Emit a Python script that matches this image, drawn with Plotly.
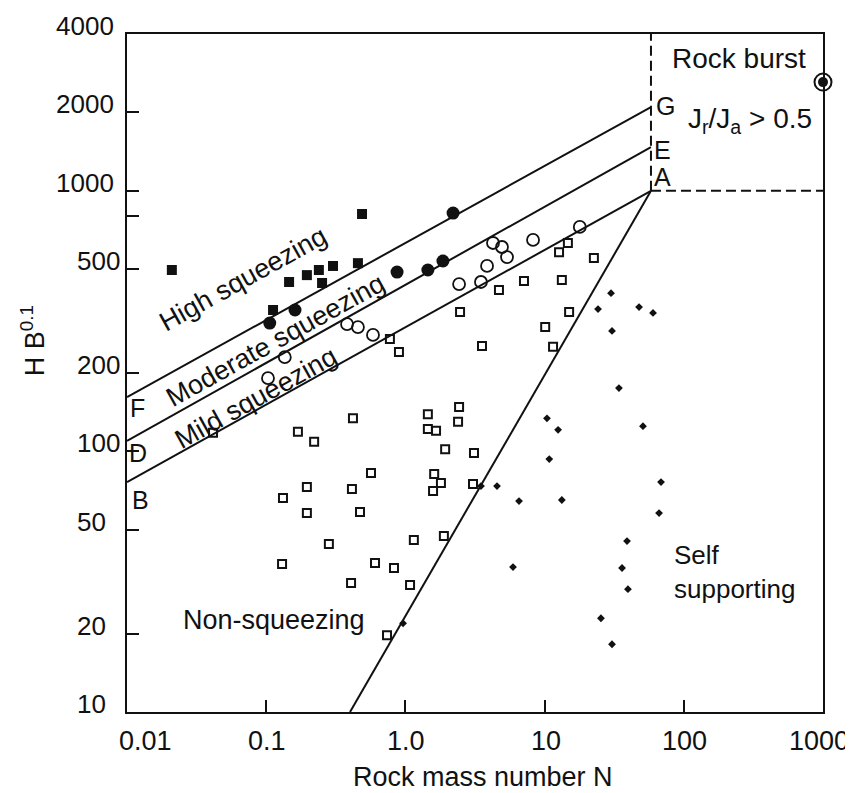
import math
import plotly.graph_objects as go

# ---------------- data ----------------
high_N = [0.021, 0.112, 0.146, 0.196, 0.239, 0.252, 0.302, 0.456, 0.488]
high_H = [497, 349, 447, 475, 497, 443, 515, 528, 815]

mod_N = [0.106, 0.161, 0.871, 1.45, 1.86, 2.20]
mod_H = [311, 349, 488, 497, 538, 822]

mild_N = [0.103, 0.136, 0.381, 0.456, 0.585, 2.43, 3.49, 3.86, 4.26, 4.94, 5.37, 8.26, 17.9]
mild_H = [191, 230, 308, 300, 280, 439, 447, 515, 631, 609, 557, 648, 727]

non_N = [0.774, 0.899, 14.7, 12.7, 22.6, 7.11, 13.3, 4.70, 2.47, 15.0, 10.1, 3.55, 11.5,
         0.420, 0.169, 0.221, 0.0415, 1.45, 2.43, 1.45, 1.66, 2.39, 1.93, 3.11, 0.566,
         1.61, 1.80, 1.58, 3.06, 0.196, 0.413, 0.132, 0.196, 0.472, 1.89, 1.15, 0.282,
         0.130, 0.605, 0.828, 0.407, 1.08, 0.738]
non_H = [270, 241, 631, 582, 552, 451, 455, 416, 343, 343, 300, 254, 252,
         134, 119, 109, 118, 139, 148, 122, 120, 130, 102, 98.6, 82.6,
         81.9, 75.6, 70.5, 75.0, 73.0, 71.7, 66.3, 58.0, 58.5, 47.4, 45.7, 44.1,
         37.0, 37.3, 35.7, 31.3, 30.7, 19.7]

self_N = [30.0, 24.2, 47.7, 60.1, 30.5, 34.2, 10.4, 12.5, 50.9, 10.8, 68.6, 3.49,
          4.55, 6.55, 13.3, 66.4, 39.1, 5.93, 36.0, 39.7, 25.4, 30.5, 0.962]
self_H = [405, 352, 358, 340, 290, 175, 134, 121, 125, 93.5, 76.3, 73.6,
          73.6, 64.5, 65.1, 58.0, 45.3, 36.0, 35.7, 29.6, 22.9, 18.2, 21.9]

burst_N = [1000]
burst_H = [2615]

# boundary lines (end points)
bound_N = [0.01, 58.1]
AB_H = [76.3, 1000]
DE_H = [109.7, 1472]
FG_H = [161.7, 2097]
nonsq_N = [0.40, 58.1]
nonsq_H = [10, 1000]
vdash_N = [58.1, 58.1]
vdash_H = [1000, 4000]
hdash_N = [58.1, 1000]
hdash_H = [1000, 1000]

# ticks
x_tick_vals = [0.01, 0.1, 1, 10, 100, 1000]
x_tick_text = ["0.01", "0.1", "1.0", "10", "100", "1000"]
y_tick_vals = [10, 20, 50, 100, 200, 500, 1000, 2000, 4000]
y_tick_text = ["10", "20", "50", "100", "200", "500", "1000", "2000", "4000"]
y_minor_tick = [800]

FONT = "Liberation Sans, Arial, sans-serif"
BLACK = "#111111"

fig = go.Figure()

def line(xs, ys, dash="solid", width=2):
    fig.add_trace(go.Scatter(x=xs, y=ys, mode="lines",
                             line=dict(color=BLACK, width=width, dash=dash),
                             hoverinfo="skip", showlegend=False, cliponaxis=False))

line(bound_N, AB_H)
line(bound_N, DE_H)
line(bound_N, FG_H)
line(nonsq_N, nonsq_H)
line(vdash_N, vdash_H, dash="10px,5px")
line(hdash_N, hdash_H, dash="10px,5px")

def pts(xs, ys, symbol, size, lw=0):
    fig.add_trace(go.Scatter(x=xs, y=ys, mode="markers",
                             marker=dict(symbol=symbol, size=size, color=BLACK,
                                         line=dict(color=BLACK, width=lw)),
                             showlegend=False, cliponaxis=False))

pts(non_N, non_H, "square-open", 8, 2)
pts(self_N, self_H, "diamond", 6, 0)
pts(mild_N, mild_H, "circle-open", 12, 1.8)
pts(high_N, high_H, "square", 10, 0)
pts(mod_N, mod_H, "circle", 13, 0)
pts(burst_N, burst_H, "circle-open", 17, 2)
pts(burst_N, burst_H, "circle", 10, 0)

ann = []
# y tick labels
for v, t in zip(y_tick_vals, y_tick_text):
    ann.append(dict(x=0, xref="paper", y=math.log10(v), yref="y", text=t,
                    showarrow=False, xanchor="left", yanchor="middle",
                    xshift=(-73 if len(t) == 4 else -52), yshift=8,
                    font=dict(family=FONT, size=26, color=BLACK)))
# x tick labels
for v, t in zip(x_tick_vals, x_tick_text):
    shift = 1
    if v == 0.01:
        shift = 18
    elif v == 1000:
        shift = -4
    ann.append(dict(x=math.log10(v), xref="x", y=0, yref="paper", text=t,
                    showarrow=False, xanchor="center", yanchor="top",
                    xshift=shift, yshift=-12,
                    font=dict(family=FONT, size=27, color=BLACK)))

def txt(x, y, t, size=27, angle=0, xanchor="center", align="center"):
    ann.append(dict(x=x, y=y, xref="paper", yref="paper", text=t, showarrow=False,
                    textangle=angle, xanchor=xanchor, yanchor="middle", align=align,
                    font=dict(family=FONT, size=size, color=BLACK)))

txt(0.1667, 0.6386, "High squeezing", angle=-29)
txt(0.214, 0.5487, "Moderate squeezing", angle=-29)
txt(0.185, 0.463, "Mild squeezing", angle=-29)
txt(0.211, 0.1357, "Non-squeezing")
txt(0.783, 0.2065, "Self<br>supporting", size=26, xanchor="left", align="left")
txt(0.879, 0.9646, "Rock burst", size=28)
txt(0.895, 0.873, "J<sub>r</sub>/J<sub>a</sub> &gt; 0.5", size=28)
txt(0.773, 0.894, "G", size=25)
txt(0.770, 0.829, "E", size=25)
txt(0.770, 0.789, "A", size=25)
txt(0.0144, 0.448, "F", size=25)
txt(0.0158, 0.382, "D", size=25)
txt(0.0187, 0.3127, "B", size=25)
# axis titles
txt(0.5115, -0.0959, "Rock mass number N", size=27)
txt(-0.135, 0.547, "H B<sup>0.1</sup>", size=27, angle=-90)

# page body has an 8px margin: figure sized/placed so the plot frame lands at
# x 127..823, y 34..712 in the 853x793 window
fig.update_layout(
    width=845, height=785,
    margin=dict(l=119, r=30, t=26, b=81),
    paper_bgcolor="white", plot_bgcolor="white",
    showlegend=False,
    annotations=ann,
    xaxis=dict(type="log", range=[-2, 3], showgrid=False, zeroline=False,
               showline=True, linecolor=BLACK, linewidth=2, mirror=True,
               ticks="inside", ticklen=12, tickwidth=2, tickcolor=BLACK,
               tickvals=x_tick_vals[1:-1], showticklabels=False),
    yaxis=dict(type="log", range=[1, math.log10(4000)], showgrid=False, zeroline=False,
               showline=True, linecolor=BLACK, linewidth=2, mirror=True,
               ticks="inside", ticklen=12, tickwidth=2, tickcolor=BLACK,
               tickvals=sorted(y_tick_vals[1:-1] + y_minor_tick), showticklabels=False),
)

fig.write_html("out.html")
